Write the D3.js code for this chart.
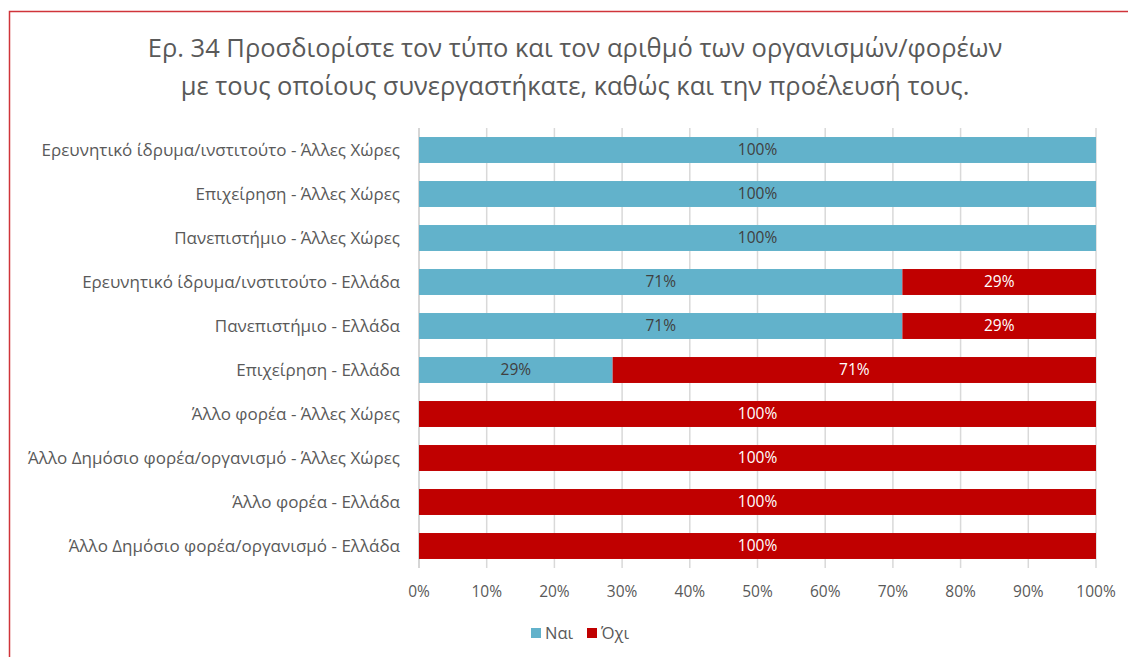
<!DOCTYPE html>
<html>
<head>
<meta charset="utf-8">
<script src="https://cdn.jsdelivr.net/npm/d3@7"></script>
<style>
  body { margin: 0; background: #fff; }
  svg { font-family: "Open Sans", "Noto Sans", sans-serif; }
</style>
</head>
<body>
<svg id="chart" width="1128" height="657"></svg>
<script>
// chart values, top row first
var categories = [
  "Ερευνητικό ίδρυμα/ινστιτούτο - Άλλες Χώρες",
  "Επιχείρηση - Άλλες Χώρες",
  "Πανεπιστήμιο - Άλλες Χώρες",
  "Ερευνητικό ίδρυμα/ινστιτούτο - Ελλάδα",
  "Πανεπιστήμιο - Ελλάδα",
  "Επιχείρηση - Ελλάδα",
  "Άλλο φορέα - Άλλες Χώρες",
  "Άλλο Δημόσιο φορέα/οργανισμό - Άλλες Χώρες",
  "Άλλο φορέα - Ελλάδα",
  "Άλλο Δημόσιο φορέα/οργανισμό - Ελλάδα"
];
var nai = [100, 100, 100, 71.4, 71.4, 28.6, 0, 0, 0, 0];
var oxi = [0, 0, 0, 28.6, 28.6, 71.4, 100, 100, 100, 100];
var seriesNames = ["Ναι", "Όχι"];
var seriesColors = ["#62b2cb", "#c00000"];
var ticks = [0, 10, 20, 30, 40, 50, 60, 70, 80, 90, 100];
var titleLines = [
  "Ερ. 34 Προσδιορίστε τον τύπο και τον αριθμό των οργανισμών/φορέων",
  "με τους οποίους συνεργαστήκατε, καθώς και την προέλευσή τους."
];

var svg = d3.select("#chart");

// outer frame
svg.append("rect")
  .attr("x", 9.5).attr("y", 11.5)
  .attr("width", 1140).attr("height", 700)
  .attr("fill", "none")
  .attr("stroke", "#d0343a")
  .attr("stroke-width", 1.5);

var title = svg.append("text")
  .attr("text-anchor", "middle")
  .attr("fill", "#595959")
  .style("font-size", "25.5px");
titleLines.forEach(function(t, i){
  title.append("tspan")
    .attr("x", 575)
    .attr("y", 57 + i * 38)
    .text(t);
});

var x = d3.scaleLinear().domain([0, 100]).range([419, 1096]);
var y = d3.scaleBand().domain(categories).range([128, 568]).paddingInner(0.41).paddingOuter(0.205);

// gridlines
svg.append("g")
  .selectAll("line")
  .data(ticks)
  .enter()
  .append("line")
  .attr("x1", function(d){ return x(d); })
  .attr("x2", function(d){ return x(d); })
  .attr("y1", 128)
  .attr("y2", 568)
  .attr("stroke", function(d){ return d == 0 ? "#c8c8c8" : "#d9d9d9"; })
  .attr("stroke-width", 1.5);

var rows = categories.map(function(c, i){
  return {cat: c, nai: nai[i], oxi: oxi[i]};
});
var stack = d3.stack().keys(["nai", "oxi"])(rows);

var layer = svg.append("g")
  .selectAll("g")
  .data(stack)
  .enter()
  .append("g")
  .attr("fill", function(d, i){ return seriesColors[i]; });

layer.selectAll("rect")
  .data(function(d){ return d; })
  .enter()
  .append("rect")
  .attr("x", function(d){ return x(d[0]); })
  .attr("y", function(d){ return y(d.data.cat); })
  .attr("width", function(d){ return x(d[1]) - x(d[0]); })
  .attr("height", y.bandwidth());

// value labels
stack.forEach(function(s, si){
  svg.append("g")
    .selectAll("text")
    .data(s.filter(function(d){ return d[1] - d[0] > 0; }))
    .enter()
    .append("text")
    .attr("x", function(d){ return (x(d[0]) + x(d[1])) / 2; })
    .attr("y", function(d){ return y(d.data.cat) + y.bandwidth() / 2; })
    .attr("dy", "0.35em")
    .attr("text-anchor", "middle")
    .attr("fill", si == 0 ? "#404040" : "#ffffff")
    .style("font-size", "15.5px")
    .text(function(d){ return Math.round(d[1] - d[0]) + "%"; });
});

// category labels
svg.append("g")
  .selectAll("text")
  .data(categories)
  .enter()
  .append("text")
  .attr("x", 400)
  .attr("y", function(d){ return y(d) + y.bandwidth() / 2; })
  .attr("dy", "0.35em")
  .attr("text-anchor", "end")
  .attr("fill", "#595959")
  .style("font-size", "17px")
  .text(function(d){ return d; });

// x tick labels
svg.append("g")
  .selectAll("text")
  .data(ticks)
  .enter()
  .append("text")
  .attr("x", function(d){ return x(d); })
  .attr("y", 592)
  .attr("dy", "0.35em")
  .attr("text-anchor", "middle")
  .attr("fill", "#595959")
  .style("font-size", "15.5px")
  .text(function(d){ return d + "%"; });

// legend
var legend = svg.append("g")
  .selectAll("g")
  .data(seriesNames)
  .enter()
  .append("g")
  .attr("transform", function(d, i){ return "translate(" + (531 + i * 56) + ",633)"; });
legend.append("rect")
  .attr("x", 0).attr("y", -5)
  .attr("width", 10).attr("height", 10)
  .attr("fill", function(d, i){ return seriesColors[i]; });
legend.append("text")
  .attr("x", 14)
  .attr("dy", "0.35em")
  .attr("fill", "#595959")
  .style("font-size", "16.5px")
  .text(function(d){ return d; });
</script>
</body>
</html>
